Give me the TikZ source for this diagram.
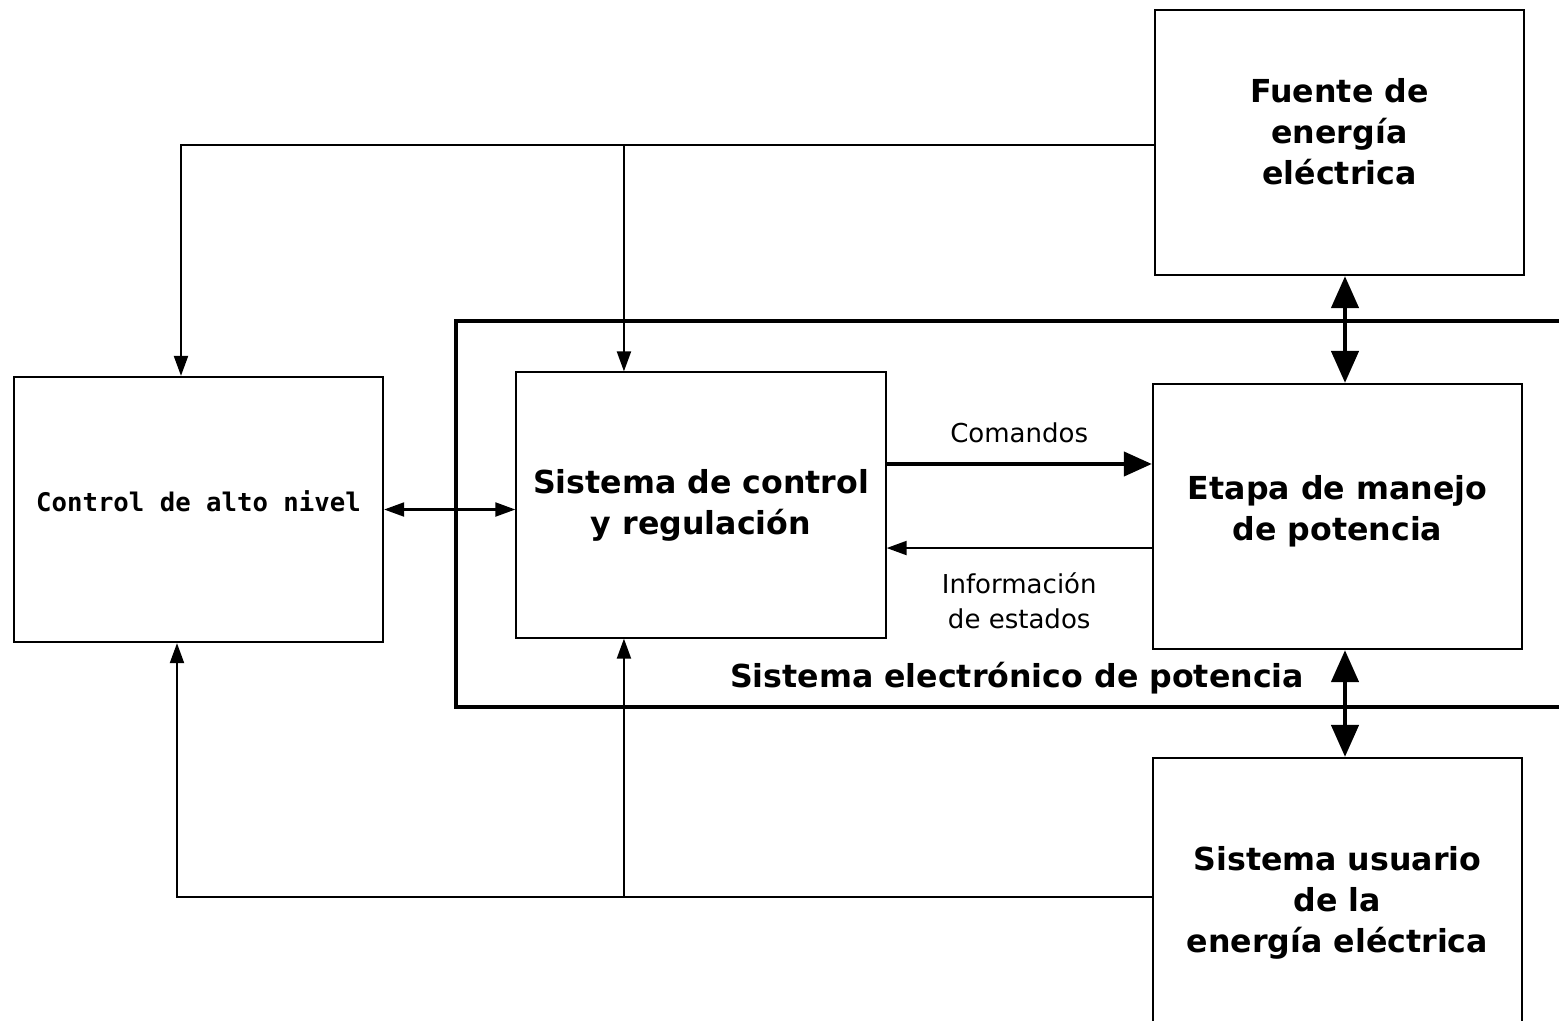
\documentclass[tikz,border=0pt]{standalone}
\usepackage{fontspec}
\setmainfont{DejaVu Sans}
\newfontfamily\squarefont{DejaVu Sans Mono}
\usetikzlibrary{arrows.meta}

\begin{document}
\begin{tikzpicture}[x=0.01cm,y=-0.01cm,
	box/.style={draw,line width=0.6pt,minimum width=3.69cm,minimum height=2.65cm,align=center,font=\fontsize{9}{11.7}\selectfont\bfseries},
	wire/.style={line width=0.6pt,-{Triangle[length=0.2cm,width=0.14cm]}},
	signal/.style={line width=1.2pt,-{Triangle[length=0.28cm,width=0.24cm]}},
	power/.style={line width=1.3pt,{Triangle[length=0.32cm,width=0.27cm]}-{Triangle[length=0.32cm,width=0.27cm]}},
	tag/.style={font=\fontsize{7.4}{9.8}\selectfont,align=center}]
	\useasboundingbox (0,0) rectangle (1559,1020);
	\clip (0,0) rectangle (1559,1020);
	\draw[line width=1.2pt] (1562,321) -| (456,707) -- (1562,707);
	\node[box,text depth=0.16cm,font=\fontsize{7.3}{9}\selectfont\squarefont\bfseries] (alto) at (198.5,509.5) {Control de alto nivel};
	\node[box] (control) at (701,505) {Sistema de control\\y regulación};
	\node[box,text depth=0.17cm] (etapa) at (1337.5,516.5) {Etapa de manejo\\ de potencia};
	\node[box,text depth=0.22cm] (fuente) at (1339.5,142.5) {Fuente de\\energía\\eléctrica};
	\node[box,minimum height=2.9cm] (usuario) at (1337.5,903) {Sistema usuario\\de la\\energía eléctrica};
	\node[font=\fontsize{9}{11.7}\selectfont\bfseries] (sep) at (1017,678) {Sistema electrónico de potencia};
	\coordinate (top) at ([yshift=-0.025cm]fuente.west);
	\coordinate (feed) at ([yshift=0.06cm]usuario.west);
	\coordinate (altoin) at ([xshift=-0.175cm]alto.north);
	\coordinate (altoout) at ([xshift=-0.215cm]alto.south);
	\coordinate (cin) at ([xshift=-0.77cm]control.north);
	\coordinate (cout) at ([xshift=-0.77cm]control.south);
	\coordinate (cmd) at ([yshift=0.41cm]control.east);
	\coordinate (info) at ([yshift=-0.315cm]etapa.west);
	\coordinate (bus) at ([xshift=0.055cm]fuente.south);
	\draw[wire] (top) -| (altoin);
	\draw[wire] (top -| cin) -- (cin);
	\draw[wire] (feed) -| (altoout);
	\draw[wire] (feed -| cout) -- (cout);
	\draw[wire,{Triangle[length=0.2cm,width=0.14cm]}-{Triangle[length=0.2cm,width=0.14cm]}] (alto.east) -- (alto.east -| control.west);
	\draw[signal] (cmd) -- (cmd -| etapa.west) node[tag,midway,above=0.07cm] (cmdtag) {Comandos};
	\draw[wire] (info) -- (info -| control.east) node[tag,midway,below=0.12cm] (infotag) {Información\\de estados};
	\foreach \a/\b in {fuente.south/etapa.north,etapa.south/usuario.north} \draw[power] (bus |- \a) -- (bus |- \b);
\end{tikzpicture}
\end{document}
